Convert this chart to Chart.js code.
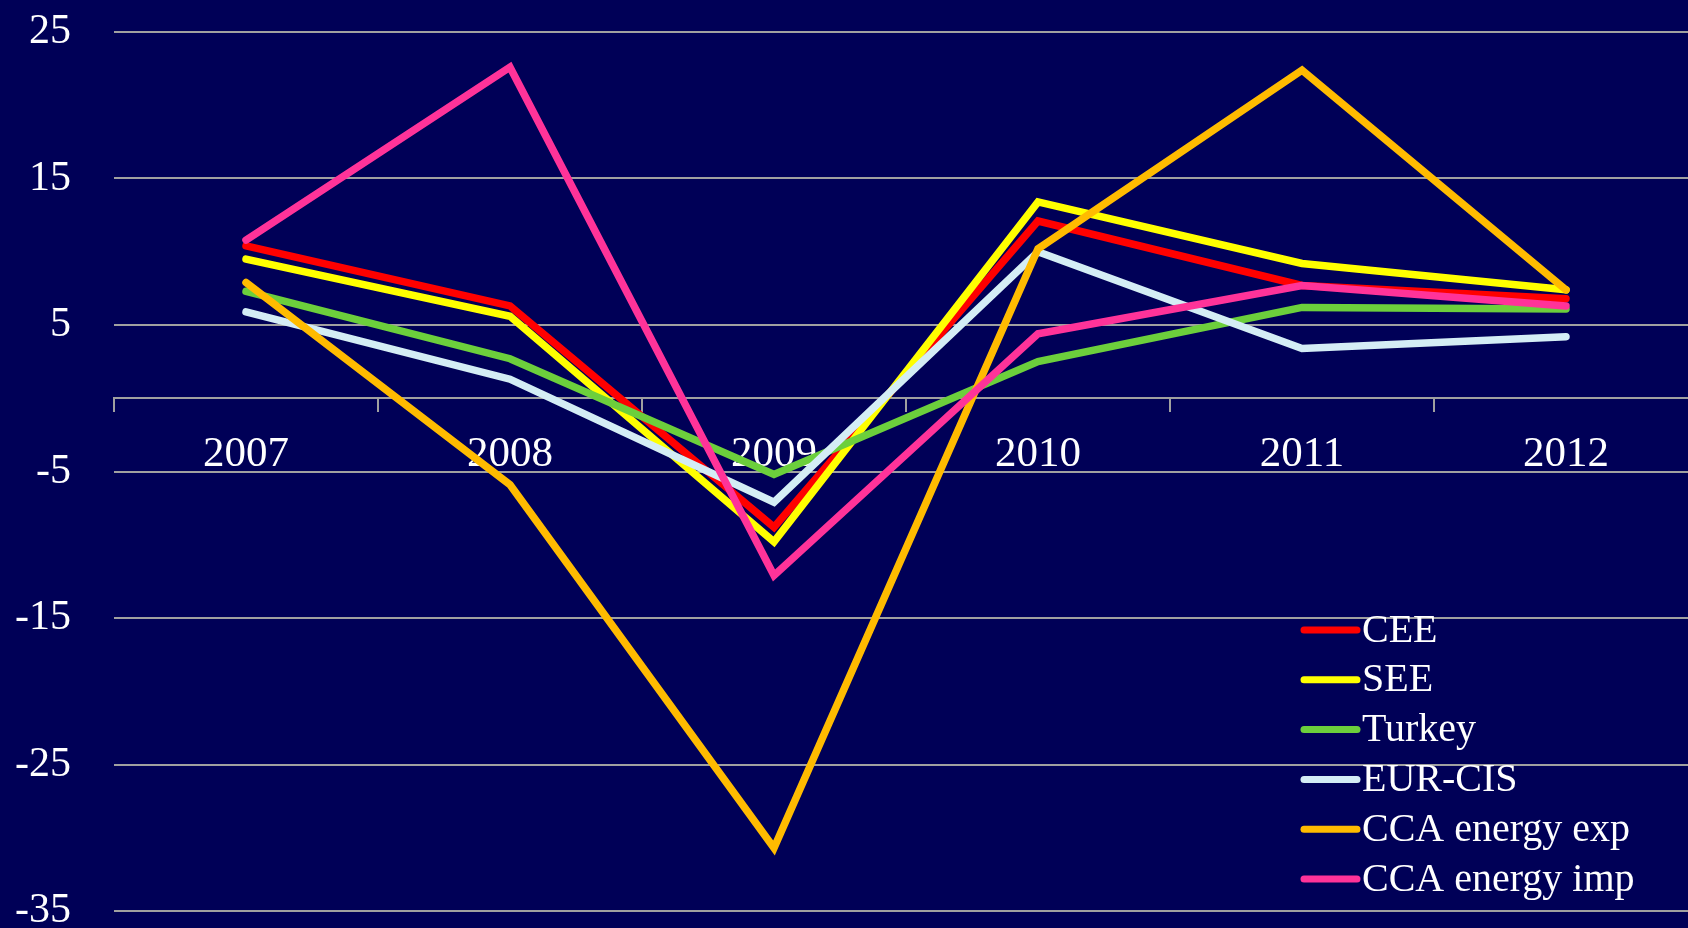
<!DOCTYPE html>
<html>
<head>
<meta charset="utf-8">
<title>Real GDP growth by region, 2007–2012</title>
<script src="https://cdn.jsdelivr.net/npm/chart.js@4.4.1/dist/chart.umd.min.js"></script>
<style>
  html, body { margin: 0; padding: 0; background: #000057; overflow: hidden; }
  canvas { display: block; }
</style>
</head>
<body>
<canvas id="growth" width="1700" height="928"></canvas>
<script>
// Categories and series values (percent)
const years = ['2007', '2008', '2009', '2010', '2011', '2012'];
const cee    = [10.4, 6.3,  -8.8, 12.1,  7.7, 6.8];
const see    = [ 9.5, 5.6,  -9.8, 13.4,  9.2, 7.4];
const turkey = [ 7.3, 2.7,  -5.2,  2.5,  6.2, 6.1];
const eurCis = [ 5.9, 1.3,  -7.1, 10.0,  3.4, 4.2];
const ccaExp = [ 7.9, -5.9, -30.7, 10.2, 22.4, 7.4];
const ccaImp = [10.8, 22.6, -12.1,  4.4,  7.7, 6.3];

const seriesNames  = ['CEE', 'SEE', 'Turkey', 'EUR-CIS', 'CCA energy exp', 'CCA energy imp'];
const seriesValues = [cee, see, turkey, eurCis, ccaExp, ccaImp];
const seriesColors = ['#ff0000', '#ffff00', '#6ccf3c', '#d4edf5', '#ffbb00', '#ff3399'];

// Value-axis tick labels
const yTicks = [25, 15, 5, -5, -15, -25, -35];

const GRID = '#a0a0a0';
const SERIF = '"Liberation Serif", "DejaVu Serif", serif';

// Later series are painted above earlier ones
const datasets = seriesNames.map((name, i) => ({
  label: name,
  data: seriesValues[i],
  borderColor: seriesColors[i],
  backgroundColor: seriesColors[i],
  borderWidth: 7.5,
  borderCapStyle: 'round',
  borderJoinStyle: 'miter',
  pointRadius: 0,
  tension: 0,
  fill: false,
  order: seriesNames.length - i
}));

// Key drawn inside the plot, lower right
const insideLegend = {
  id: 'insideLegend',
  afterDraw(chart) {
    const { ctx } = chart;
    const x0 = 1304, x1 = 1357, tx = 1362, y0 = 630, step = 49.8;
    ctx.save();
    ctx.font = '40px ' + SERIF;
    ctx.textBaseline = 'middle';
    ctx.textAlign = 'left';
    chart.data.datasets.forEach((ds, i) => {
      const y = y0 + i * step;
      ctx.strokeStyle = ds.borderColor;
      ctx.lineWidth = 7;
      ctx.lineCap = 'round';
      ctx.beginPath();
      ctx.moveTo(x0, y);
      ctx.lineTo(x1, y);
      ctx.stroke();
      ctx.fillStyle = '#ffffff';
      ctx.fillText(ds.label, tx, y + 1);
    });
    ctx.restore();
  }
};

function noScalePadding(scale) {
  scale.paddingTop = 0;
  scale.paddingBottom = 0;
  scale.paddingLeft = 0;
  scale.paddingRight = 0;
}

new Chart(document.getElementById('growth'), {
  type: 'line',
  data: { labels: years, datasets },
  options: {
    responsive: false,
    animation: false,
    devicePixelRatio: 1,
    layout: { padding: { top: 32, bottom: 17, left: 0, right: 2 } },
    plugins: {
      legend: { display: false },
      tooltip: { enabled: false }
    },
    scales: {
      x: {
        type: 'category',
        position: { y: 0 },
        offset: true,
        grid: {
          offset: true,
          drawOnChartArea: false,
          drawTicks: true,
          tickLength: 13,
          color: GRID,
          lineWidth: 2
        },
        border: { display: true, color: GRID, width: 2 },
        ticks: {
          color: '#ffffff',
          font: { family: SERIF, size: 43 },
          padding: 18,
          maxRotation: 0,
          autoSkip: false
        },
        afterFit(scale) { scale.height = 0; noScalePadding(scale); }
      },
      y: {
        min: -35,
        max: 25,
        afterBuildTicks(scale) { scale.ticks = yTicks.map(v => ({ value: v })); },
        grid: { color: GRID, lineWidth: 2, drawTicks: false },
        border: { display: false },
        ticks: {
          color: '#ffffff',
          font: { family: SERIF, size: 42 },
          padding: 43
        },
        afterFit(scale) { scale.width = 114; noScalePadding(scale); }
      }
    }
  },
  plugins: [insideLegend]
});
</script>
</body>
</html>
